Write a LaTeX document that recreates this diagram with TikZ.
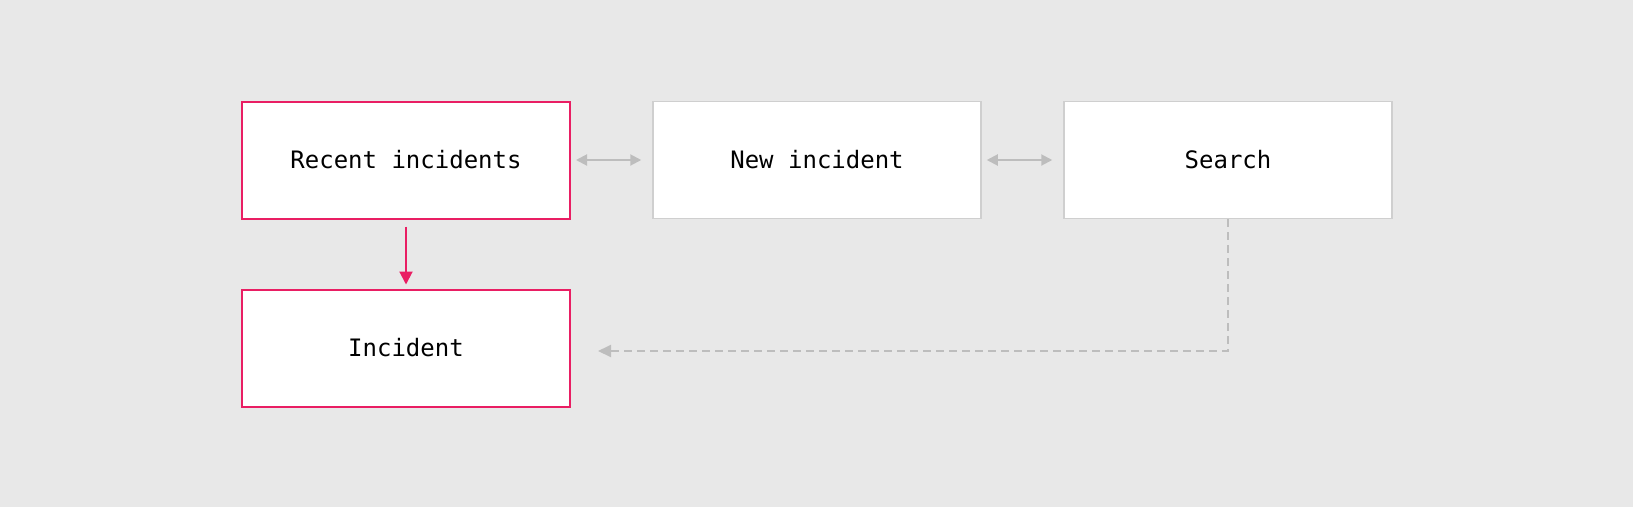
\documentclass[tikz,border=0pt]{standalone}
\usepackage{fontspec}
\setmonofont{DejaVu Sans Mono}
\usetikzlibrary{arrows.meta}
\definecolor{bggray}{HTML}{E8E8E8}
\definecolor{pinkred}{HTML}{E91E63}
\definecolor{linegray}{HTML}{BDBDBD}
\definecolor{edgegray}{HTML}{CFCFCF}
\tikzset{
  screen/.style={draw=edgegray, line width=1.5pt, fill=white, minimum width=328pt, minimum height=117pt, font=\ttfamily\fontsize{24}{28}\selectfont, text=black},
  active/.style={screen, draw=pinkred, line width=2pt},
  navlink/.style={linegray, line width=2pt, {Triangle[length=11pt,width=11pt]}-{Triangle[length=11pt,width=11pt]}},
  golink/.style={pinkred, line width=2pt, -{Triangle[length=13pt,width=13pt]}},
  jumplink/.style={linegray, line width=2pt, dash pattern=on 8pt off 5pt, -{Triangle[length=13pt,width=12pt]}}
}

\begin{document}
\begin{tikzpicture}[x=1pt,y=-1pt]
%%Background
\fill[bggray] (0,0) rectangle (1633,507);
\useasboundingbox (0,0) rectangle (1633,507);
%%Screens
\node[active] (recent) at (406,160) {Recent incidents};
\node[screen] (new) at (817,160) {New incident};
\node[screen] (search) at (1228,160) {Search};
\node[active] (incident) at (406,348) {Incident};
%%Links
\draw[navlink, shorten <=5pt, shorten >=11pt] (recent.east) -- (new.west);
\draw[navlink, shorten <=5pt, shorten >=11pt] (new.east) -- (search.west);
\draw[golink, shorten <=7pt, shorten >=4pt] (recent.south) -- (incident.north);
\draw[jumplink, shorten >=27pt] (search.south) |- ([yshift=-3pt]incident.east);
\end{tikzpicture}
\end{document}
